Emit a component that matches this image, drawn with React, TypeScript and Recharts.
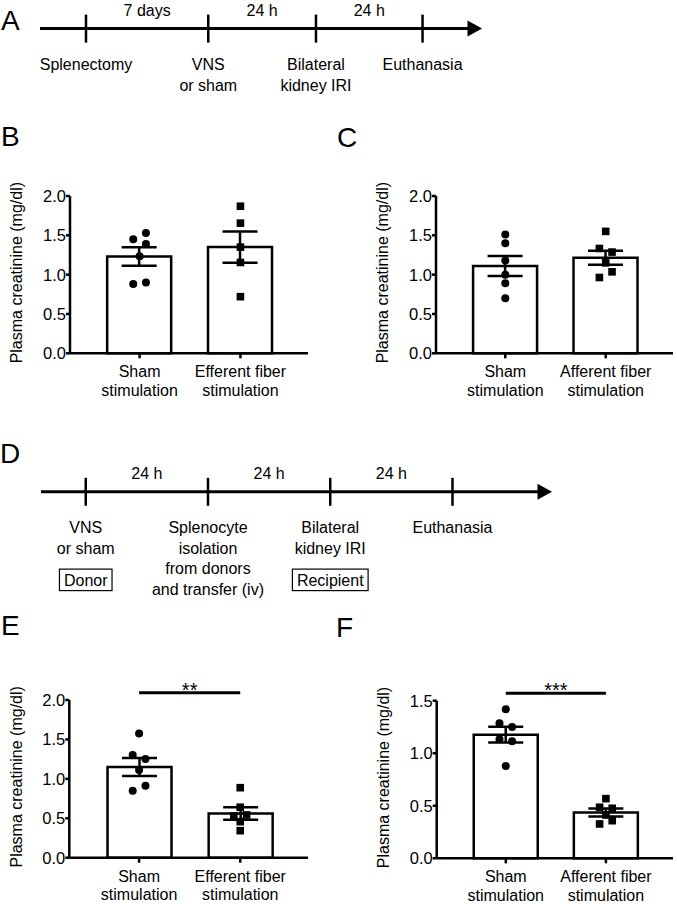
import React from "react";
import {
  ComposedChart,
  Bar,
  ErrorBar,
  Scatter,
  XAxis,
  YAxis,
  ReferenceLine,
  Label,
} from "recharts";

const FONT = '"Liberation Sans", Arial, Helvetica, sans-serif';
const INK = "#000";

// ---- timelines (event positions on a schematic time axis) ----
const A_EVENTS = ["Splenectomy", "VNS\nor sham", "Bilateral\nkidney IRI", "Euthanasia"];
const A_TIMES = [0, 1.09, 2.05, 3];
const A_GAPS = ["7 days", "24 h", "24 h"];
const A_SPAN = [-0.41, 3.53];

const D_EVENTS = [
  "VNS\nor sham",
  "Splenocyte\nisolation\nfrom donors\nand transfer (iv)",
  "Bilateral\nkidney IRI",
  "Euthanasia",
];
const D_BOXES = ["Donor", "", "Recipient", ""];
const D_TIMES = [0, 1, 2, 3];
const D_GAPS = ["24 h", "24 h", "24 h"];
const D_SPAN = [-0.366, 3.814];

// ---- bar panels ----
const Y_LABEL = "Plasma creatinine (mg/dl)";
const GROUPS_EFF = ["Sham\nstimulation", "Efferent fiber\nstimulation"];
const GROUPS_AFF = ["Sham\nstimulation", "Afferent fiber\nstimulation"];
const TICKS_2 = [0, 0.5, 1, 1.5, 2];
const TICKS_15 = [0, 0.5, 1, 1.5];
const JITTER = 0.063;

// B: splenectomy, efferent
const B_MEAN = [1.23, 1.35];
const B_SEM = [0.117, 0.2];
const B_SHAM = [1.45, 1.53, 1.39, 1.235, 0.88, 0.9];
const B_SHAM_DX = [-1, 1, 1, 0, -1, 1];
const B_STIM = [1.87, 1.655, 1.35, 1.155, 0.72];
const B_STIM_DX = [0, 0, 0, 0, 0];

// C: splenectomy, afferent
const C_MEAN = [1.11, 1.215];
const C_SEM = [0.128, 0.089];
const C_SHAM = [1.51, 1.4, 1.18, 1.0, 0.89, 0.7];
const C_SHAM_DX = [0, 0, 0, 0, 0, 0];
const C_STIM = [1.55, 1.333, 1.287, 1.15, 1.036, 0.964];
const C_STIM_DX = [0, -1, 1, 0, 1, -1];

// E: transfer, efferent
const E_MEAN = [1.15, 0.56];
const E_SEM = [0.114, 0.079];
const E_SHAM = [1.574, 1.303, 1.253, 1.113, 0.85, 0.914];
const E_SHAM_DX = [0, -1, 1, 0, -1, 1];
const E_STIM = [0.888, 0.64, 0.529, 0.542, 0.457, 0.343];
const E_STIM_DX = [0, 0, -1, 1, 0, 0];
const E_SIG = { y: 2.093, text: "**" };

// F: transfer, afferent
const F_MEAN = [1.177, 0.435];
const F_SEM = [0.076, 0.038];
const F_SHAM = [1.419, 1.286, 1.25, 1.133, 1.114, 0.879];
const F_SHAM_DX = [0, -1, 1, -1, 1, 0];
const F_STIM = [0.568, 0.486, 0.476, 0.412, 0.358, 0.327];
const F_STIM_DX = [0, -1, 1, 0, 1, -1];
const F_SIG = { y: 1.57, text: "***" };

let ctx: CanvasRenderingContext2D | null = null;
function textWidth(s: string, size = 16) {
  if (!ctx) ctx = document.createElement("canvas").getContext("2d");
  if (!ctx) return s.length * size * 0.55;
  ctx.font = `${size}px "Liberation Sans", Arial`;
  return ctx.measureText(s).width;
}

function Arrow(props: any) {
  const { x1, y1, x2 } = props;
  return (
    <g>
      <line x1={x1} y1={y1} x2={x2 - 12} y2={y1} stroke={INK} strokeWidth={3} />
      <polygon points={`${x2 - 14.5},${y1 - 8} ${x2},${y1} ${x2 - 14.5},${y1 + 8}`} fill={INK} />
    </g>
  );
}

function EventMark(props: any) {
  const { cx, cy, payload } = props;
  const lines: string[] = payload.label.split("\n");
  const box: string = payload.box;
  const bw = box ? textWidth(box) + 9 : 0;
  return (
    <g>
      <line x1={cx} x2={cx} y1={cy - 14} y2={cy + 14} stroke={INK} strokeWidth={2.5} />
      <text textAnchor="middle" fontSize={16} fontFamily={FONT} fill={INK}>
        {lines.map((l, i) => (
          <tspan key={i} x={cx} y={cy + 41.2 + i * 20.7}>
            {l}
          </tspan>
        ))}
      </text>
      {box ? (
        <g>
          <rect x={cx - bw / 2} y={cy + 77.3} width={bw} height={21.5} fill="none" stroke={INK} strokeWidth={1.2} />
          <text x={cx} y={cy + 93.7} textAnchor="middle" fontSize={16} fontFamily={FONT} fill={INK}>
            {box}
          </text>
        </g>
      ) : null}
    </g>
  );
}

function GapMark(props: any) {
  const { cx, cy, payload } = props;
  return (
    <text x={cx} y={cy - 12.8} textAnchor="middle" fontSize={16} fontFamily={FONT} fill={INK}>
      {payload.label}
    </text>
  );
}

function Timeline({ top, height, margin, events, times, gaps, boxes, span }: any) {
  const evData = events.map((label: string, i: number) => ({
    t: times[i],
    y: 0,
    label,
    box: boxes ? boxes[i] : "",
  }));
  const gapData = gaps.map((label: string, i: number) => ({
    t: (times[i] + times[i + 1]) / 2,
    y: 0,
    label,
  }));
  return (
    <div style={{ position: "absolute", left: 0, top }}>
      <ComposedChart width={677} height={height} margin={margin} style={{ overflow: "visible" }}>
        <XAxis type="number" dataKey="t" domain={span} hide />
        <YAxis type="number" domain={[-1, 1]} hide />
        <ReferenceLine y={0} shape={Arrow} />
        <Scatter data={evData} dataKey="y" shape={EventMark} isAnimationActive={false} />
        <Scatter data={gapData} dataKey="y" shape={GapMark} isAnimationActive={false} />
      </ComposedChart>
    </div>
  );
}

function Dot(props: any) {
  return <circle cx={props.cx} cy={props.cy} r={4} fill={INK} />;
}
function Sq(props: any) {
  return <rect x={props.cx - 3.8} y={props.cy - 3.8} width={7.6} height={7.6} fill={INK} />;
}

function YLab(props: any) {
  const vb = props.viewBox;
  const x = vb.x + vb.width - 53;
  const y = vb.y + vb.height / 2 - 2;
  return (
    <text
      x={x}
      y={y}
      transform={`rotate(-90 ${x} ${y})`}
      textAnchor="middle"
      dominantBaseline="central"
      fontSize={16}
      fontFamily={FONT}
      fill={INK}
    >
      {Y_LABEL}
    </text>
  );
}

function makeTick(groups: string[]) {
  return function XTick(props: any) {
    const { x, y, payload } = props;
    const lines = groups[Math.round(payload.value)].split("\n");
    return (
      <text x={x} y={y} textAnchor="middle" fontSize={16} fontFamily={FONT} fill={INK}>
        <tspan x={x} dy={17}>
          {lines[0]}
        </tspan>
        <tspan x={x} dy={18.7}>
          {lines[1]}
        </tspan>
      </text>
    );
  };
}

const X_DOMAIN = [-0.69, 1.67];

function BarPanel({ left, top, width, height, margin, xAxisHeight, groups, mean, sem, sham, shamDx, stim, stimDx, yMax, yTicks, sig }: any) {
  const bars = mean.map((m: number, i: number) => ({ x: i, y: m, err: sem[i] }));
  const shamPts = sham.map((v: number, i: number) => ({ x: 0 + shamDx[i] * JITTER, y: v }));
  const stimPts = stim.map((v: number, i: number) => ({ x: 1 + stimDx[i] * JITTER, y: v }));
  return (
    <div style={{ position: "absolute", left, top }}>
      <ComposedChart width={width} height={height} data={bars} margin={margin} style={{ overflow: "visible" }}>
        <XAxis
          type="number"
          dataKey="x"
          domain={X_DOMAIN}
          ticks={[0, 1]}
          interval={0}
          height={xAxisHeight}
          axisLine={{ stroke: INK, strokeWidth: 2.5 }}
          tickLine={{ stroke: INK, strokeWidth: 2.5 }}
          tickSize={5}
          tickMargin={2}
          tick={makeTick(groups)}
        />
        <XAxis xAxisId="pts" type="number" dataKey="x" domain={X_DOMAIN} hide />
        <YAxis
          type="number"
          domain={[0, yMax]}
          ticks={yTicks}
          interval={0}
          width={50}
          axisLine={{ stroke: INK, strokeWidth: 2.5 }}
          tickLine={{ stroke: INK, strokeWidth: 2.5 }}
          tickSize={4}
          tickMargin={0}
          tick={{ fontSize: 16.5, fill: INK, fontFamily: FONT }}
          tickFormatter={(v: number) => v.toFixed(1)}
        >
          <Label content={YLab} />
        </YAxis>
        <Bar dataKey="y" fill="#fff" stroke={INK} strokeWidth={2.5} barSize={64} isAnimationActive={false}>
          <ErrorBar dataKey="err" width={17.5} stroke={INK} strokeWidth={2.5} direction="y" />
        </Bar>
        <Scatter xAxisId="pts" data={shamPts} dataKey="y" shape={Dot} isAnimationActive={false} />
        <Scatter xAxisId="pts" data={stimPts} dataKey="y" shape={Sq} isAnimationActive={false} />
        {sig ? (
          <ReferenceLine
            segment={[
              { x: 0, y: sig.y },
              { x: 1, y: sig.y },
            ]}
            stroke={INK}
            strokeWidth={3}
            ifOverflow="visible"
          >
            <Label value={sig.text} position="top" offset={-4} fontSize={20} fill={INK} fontFamily={FONT} />
          </ReferenceLine>
        ) : null}
      </ComposedChart>
    </div>
  );
}

const letter = (ch: string, left: number, top: number) => (
  <div
    style={{
      position: "absolute",
      left,
      top,
      fontSize: 28,
      lineHeight: "28px",
      fontFamily: FONT,
      color: INK,
    }}
  >
    {ch}
  </div>
);

export default function App() {
  return (
    <div
      style={{
        position: "absolute",
        left: 0,
        top: 0,
        width: 677,
        height: 904,
        background: "#fff",
        fontFamily: FONT,
        overflow: "hidden",
      }}
    >
      {letter("A", 1, 7)}
      {letter("B", 1, 123)}
      {letter("C", 337, 124)}
      {letter("D", 0, 440)}
      {letter("E", 1, 612)}
      {letter("F", 336, 614)}

      <Timeline
        top={0}
        height={110}
        margin={{ top: 0, right: 195, bottom: 52.8, left: 40 }}
        events={A_EVENTS}
        times={A_TIMES}
        gaps={A_GAPS}
        span={A_SPAN}
      />
      <Timeline
        top={430}
        height={175}
        margin={{ top: 0, right: 125, bottom: 51.4, left: 41 }}
        events={D_EVENTS}
        times={D_TIMES}
        gaps={D_GAPS}
        boxes={D_BOXES}
        span={D_SPAN}
      />

      <BarPanel
        left={0}
        top={170}
        width={320}
        height={240}
        margin={{ top: 26, right: 12, bottom: 6.7, left: 20 }}
        xAxisHeight={50}
        groups={GROUPS_EFF}
        mean={B_MEAN}
        sem={B_SEM}
        sham={B_SHAM}
        shamDx={B_SHAM_DX}
        stim={B_STIM}
        stimDx={B_STIM_DX}
        yMax={2}
        yTicks={TICKS_2}
      />
      <BarPanel
        left={350}
        top={170}
        width={327}
        height={240}
        margin={{ top: 26, right: 4, bottom: 6.7, left: 36 }}
        xAxisHeight={50}
        groups={GROUPS_AFF}
        mean={C_MEAN}
        sem={C_SEM}
        sham={C_SHAM}
        shamDx={C_SHAM_DX}
        stim={C_STIM}
        stimDx={C_STIM_DX}
        yMax={2}
        yTicks={TICKS_2}
      />
      <BarPanel
        left={0}
        top={670}
        width={320}
        height={234}
        margin={{ top: 30, right: 12, bottom: 0.3, left: 19.3 }}
        xAxisHeight={46}
        groups={GROUPS_EFF}
        mean={E_MEAN}
        sem={E_SEM}
        sham={E_SHAM}
        shamDx={E_SHAM_DX}
        stim={E_STIM}
        stimDx={E_STIM_DX}
        yMax={2}
        yTicks={TICKS_2}
        sig={E_SIG}
      />
      <BarPanel
        left={350}
        top={670}
        width={327}
        height={234}
        margin={{ top: 30.7, right: 4, bottom: 0.7, left: 36.7 }}
        xAxisHeight={45}
        groups={GROUPS_AFF}
        mean={F_MEAN}
        sem={F_SEM}
        sham={F_SHAM}
        shamDx={F_SHAM_DX}
        stim={F_STIM}
        stimDx={F_STIM_DX}
        yMax={1.5}
        yTicks={TICKS_15}
        sig={F_SIG}
      />
    </div>
  );
}
